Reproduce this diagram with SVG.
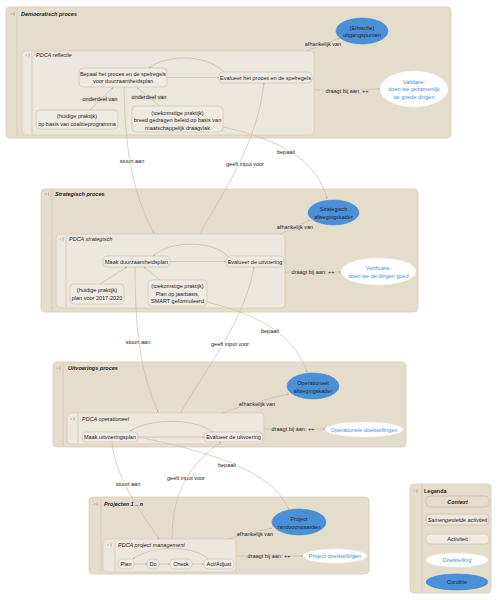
<svg xmlns="http://www.w3.org/2000/svg" width="499" height="600" viewBox="0 0 499 600">
<style>
.ctx{fill:#e5ddcc;stroke:#d5cbb7;stroke-width:0.8}
.sub{fill:#ede8dd;stroke:#d6cdbb;stroke-width:0.8}
.act{fill:#f0ebe2;stroke:#c9bfad;stroke-width:0.6}
.cond{fill:#4a90d9;stroke:#3f80c6;stroke-width:0.5}
.goal{fill:#ffffff;stroke:#eeeeee;stroke-width:0.5}
.sep{stroke:#cfc5b1;stroke-width:0.7}
.tg{stroke:#8a8170;stroke-width:0.6}
text{font-family:"Liberation Sans",Arial,sans-serif;font-size:5.5px;fill:#222}
.m{text-anchor:middle}
.tb{font-weight:bold;font-style:italic}
.ti{font-style:italic}
.b{font-weight:bold}
.blue{fill:#4a8fd6}
.c{fill:none;stroke:#c2b69e;stroke-width:0.6}
.lw{paint-order:stroke;stroke:#ffffff;stroke-width:2px}
.lc{paint-order:stroke;stroke:#e5ddcc;stroke-width:2px}
</style>
<defs>
<marker id="ar" viewBox="0 0 6 6" refX="5.5" refY="3" markerWidth="3.5" markerHeight="3.5" orient="auto">
<path d="M0,0.5 L6,3 L0,5.5 z" fill="#b8ab90"/>
</marker>
</defs>
<rect width="499" height="600" fill="#ffffff"/>

<g id="ctx-democratisch">
<rect class="ctx" x="6" y="7" width="445" height="131" rx="4"/>
<line class="sep" x1="17" y1="8" x2="17" y2="137"/>
<line class="tg" x1="10.5" y1="14" x2="12" y2="14"/><line class="tg" x1="14" y1="12.5" x2="14" y2="15.5"/>
<text class="tb" x="21" y="15.5">Democratisch proces</text>
</g>
<g id="sub-reflectie">
<rect class="sub" x="22" y="51" width="292" height="84" rx="4"/>
<line class="sep" x1="32" y1="52" x2="32" y2="134"/>
<line class="tg" x1="25.5" y1="55" x2="27" y2="55"/><line class="tg" x1="29" y1="53.5" x2="29" y2="56.5"/>
<text class="ti" x="36" y="56.5">PDCA reflectie</text>
</g>
<g id="n-bepaal"><rect class="act" x="79" y="68" width="88" height="19" rx="4"/>
<text class="m" x="123" y="75.5">Bepaal het proces en de spelregels</text><text class="m" x="123" y="83">voor duurzaamheidsplan</text></g>
<g id="n-evalueer1"><rect class="act" x="219" y="72" width="93" height="11" rx="4"/>
<text class="m" x="265.5" y="79.5">Evalueer het proces en de spelregels</text></g>
<g id="n-huidige1"><rect class="act" x="36" y="110" width="82" height="19" rx="4"/>
<text class="m" x="77" y="118">(huidige praktijk)</text><text class="m" x="77" y="126">op basis van coalitieprogramma</text></g>
<g id="n-toek1"><rect class="act" x="132" y="106" width="91" height="26" rx="4"/>
<text class="m" x="177.5" y="114.5">(toekomstige praktijk)</text><text class="m" x="177.5" y="122">breed gedragen beleid op basis van</text><text class="m" x="177.5" y="129.5">maatschappelijk draagvlak</text></g>
<g id="n-ethisch"><ellipse class="cond" cx="362" cy="31" rx="26" ry="13"/>
<text class="m" x="362" y="29.5">(Ethische)</text><text class="m" x="362" y="37">uitgangspunten</text></g>
<g id="n-validatie"><ellipse class="goal" cx="414" cy="89" rx="34" ry="18"/>
<text class="m blue" x="414" y="83.5">Validatie:</text><text class="m blue" x="414" y="91.3">doen we gezamenlijk</text><text class="m blue" x="414" y="99">de goede dingen</text></g>

<g id="ctx-strategisch">
<rect class="ctx" x="41" y="189" width="377" height="123" rx="4"/>
<line class="sep" x1="52" y1="190" x2="52" y2="311"/>
<line class="tg" x1="45" y1="194" x2="46.5" y2="194"/><line class="tg" x1="48.5" y1="192.5" x2="48.5" y2="195.5"/>
<text class="tb" x="55" y="196">Strategisch proces</text>
</g>
<g id="sub-strategisch">
<rect class="sub" x="56" y="234" width="229" height="74" rx="4"/>
<line class="sep" x1="66" y1="235" x2="66" y2="307"/>
<line class="tg" x1="59.5" y1="239" x2="61" y2="239"/><line class="tg" x1="63" y1="237.5" x2="63" y2="240.5"/>
<text class="ti" x="69" y="241">PDCA strategisch</text>
</g>
<g id="n-maak1"><rect class="act" x="103" y="256" width="67" height="11" rx="4"/>
<text class="m" x="136.5" y="263.5">Maak duurzaamheidsplan</text></g>
<g id="n-evalueer2"><rect class="act" x="226" y="256" width="58" height="11" rx="4"/>
<text class="m" x="255" y="263.5">Evalueer de uitvoering</text></g>
<g id="n-huidige2"><rect class="act" x="70" y="284" width="54" height="20" rx="4"/>
<text class="m" x="97" y="292">(huidige praktijk)</text><text class="m" x="97" y="300">plan voor 2017-2020</text></g>
<g id="n-toek2"><rect class="act" x="148" y="280" width="59" height="26" rx="4"/>
<text class="m" x="177.5" y="288">(toekomstige praktijk)</text><text class="m" x="177.5" y="295.5">Plan op jaarbasis,</text><text class="m" x="177.5" y="303">SMART geformuleerd</text></g>
<g id="n-strat-kader"><ellipse class="cond" cx="333.5" cy="212.5" rx="25.5" ry="12.5"/>
<text class="m" x="333.5" y="211.3">Strategisch</text><text class="m" x="333.5" y="219">afwegingskader</text></g>
<g id="n-verificatie"><ellipse class="goal" cx="378.5" cy="271.5" rx="37.5" ry="13.5"/>
<text class="m blue" x="378.5" y="269.7">Verificatie:</text><text class="m blue" x="378.5" y="277.7">doen we de dingen goed</text></g>

<g id="ctx-uitvoering">
<rect class="ctx" x="53" y="362" width="353" height="85" rx="4"/>
<line class="sep" x1="63" y1="363" x2="63" y2="446"/>
<line class="tg" x1="56.5" y1="368" x2="58" y2="368"/><line class="tg" x1="60" y1="366.5" x2="60" y2="369.5"/>
<text class="tb" x="68" y="370">Uitvoerings proces</text>
</g>
<g id="sub-operationeel">
<rect class="sub" x="67" y="413" width="197" height="31" rx="4"/>
<line class="sep" x1="78" y1="414" x2="78" y2="443"/>
<line class="tg" x1="70.5" y1="419" x2="72" y2="419"/><line class="tg" x1="74" y1="417.5" x2="74" y2="420.5"/>
<text class="ti" x="82" y="421">PDCA operationeel</text>
</g>
<g id="n-maak2"><rect class="act" x="82" y="432" width="56" height="10" rx="4"/>
<text class="m" x="110" y="439">Maak uitvoeringsplan</text></g>
<g id="n-evalueer3"><rect class="act" x="204" y="432" width="59" height="10" rx="4"/>
<text class="m" x="233.5" y="439">Evalueer de uitvoering</text></g>
<g id="n-oper-kader"><ellipse class="cond" cx="313" cy="386" rx="26" ry="13"/>
<text class="m" x="313" y="385.3">Operationeel</text><text class="m" x="313" y="392.7">afwegingskader</text></g>
<g id="n-oper-doel"><ellipse class="goal" cx="364" cy="429.5" rx="39" ry="7.5"/>
<text class="m blue" x="364" y="431.5">Operationele doelstellingen</text></g>

<g id="ctx-projecten">
<rect class="ctx" x="89" y="497" width="280" height="77" rx="4"/>
<line class="sep" x1="101" y1="498" x2="101" y2="573"/>
<line class="tg" x1="93.5" y1="504" x2="95" y2="504"/><line class="tg" x1="97" y1="502.5" x2="97" y2="505.5"/>
<text class="tb" x="104" y="506">Projecten 1 .. n</text>
</g>
<g id="sub-project">
<rect class="sub" x="103" y="539" width="133" height="33" rx="4"/>
<line class="sep" x1="115" y1="540" x2="115" y2="571"/>
<line class="tg" x1="107.5" y1="545" x2="109" y2="545"/><line class="tg" x1="111" y1="543.5" x2="111" y2="546.5"/>
<text class="ti" x="118" y="547">PDCA project management</text>
</g>
<g id="n-plan"><rect class="act" x="118" y="559" width="16" height="10" rx="4"/><text class="m" x="126" y="566">Plan</text></g>
<g id="n-do"><rect class="act" x="147" y="559" width="12" height="10" rx="4"/><text class="m" x="153" y="566">Do</text></g>
<g id="n-check"><rect class="act" x="170" y="559" width="22" height="10" rx="4"/><text class="m" x="181" y="566">Check</text></g>
<g id="n-act"><rect class="act" x="204" y="559" width="30" height="10" rx="4"/><text class="m" x="219" y="566">Act/Adjust</text></g>
<g id="n-proj-rand"><ellipse class="cond" cx="299" cy="522" rx="27" ry="13"/>
<text class="m" x="299" y="521">Project</text><text class="m" x="299" y="528.7">randvoorwaarden</text></g>
<g id="n-proj-doel"><ellipse class="goal" cx="335" cy="556" rx="32" ry="7"/>
<text class="m blue" x="335" y="558">Project doelstellingen</text></g>

<g id="legend">
<rect class="ctx" x="410" y="484" width="81" height="109" rx="4"/>
<line class="sep" x1="422" y1="485" x2="422" y2="592"/>
<line class="tg" x1="413.5" y1="491" x2="415" y2="491"/><line class="tg" x1="417" y1="489.5" x2="417" y2="492.5"/>
<text class="b" x="424" y="493">Leganda</text>
<rect class="ctx" x="426" y="496" width="63" height="11" rx="4" style="stroke:#cabfab"/>
<text class="m tb" x="457.5" y="503.5">Context</text>
<rect class="sub" x="426" y="514" width="63" height="11" rx="4" style="stroke:#cabfab"/>
<text class="m ti" x="457.5" y="521.5">Samengestelde activiteit</text>
<rect class="act" x="426" y="534" width="63" height="10" rx="4"/>
<text class="m" x="457.5" y="541">Activiteit</text>
<ellipse class="goal" cx="457" cy="560" rx="31" ry="7"/>
<text class="m blue" x="457" y="562">Doelstelling</text>
<ellipse class="cond" cx="457" cy="582" rx="31" ry="8"/>
<text class="m" x="457" y="584">Conditie</text>
</g>

<g id="connectors">
<path class="c" d="M167,77.5 L219,77.5" marker-end="url(#ar)"/>
<path class="c" d="M224,72 C205,53 165,55 149,68" marker-end="url(#ar)"/>
<path class="c" d="M90,110 L113,87.5" marker-end="url(#ar)"/>
<path class="c" d="M160,106 L137,87.5" marker-end="url(#ar)"/>
<path class="c" d="M306,51 L340,38" marker-end="url(#ar)"/>
<path class="c" d="M314,90 L380,89" marker-end="url(#ar)"/>
<path class="c" d="M124,87 C125,160 136,200 154,233" marker-end="url(#ar)"/>
<path class="c" d="M200,233 C225,190 258,140 264,83" marker-end="url(#ar)"/>
<path class="c" d="M223,127 C290,142 318,165 327,199" marker-end="url(#ar)"/>

<path class="c" d="M170,261.5 L226,261.5" marker-end="url(#ar)"/>
<path class="c" d="M228,257 C215,240 170,240 153,256" marker-end="url(#ar)"/>
<path class="c" d="M100,284 L127,267" marker-end="url(#ar)"/>
<path class="c" d="M160,280 L144,267" marker-end="url(#ar)"/>
<path class="c" d="M280,234 L310,220" marker-end="url(#ar)"/>
<path class="c" d="M285,272 L341,272" marker-end="url(#ar)"/>
<path class="c" d="M135,267 C135,350 145,380 158,412" marker-end="url(#ar)"/>
<path class="c" d="M181,412 C205,370 245,320 254,267" marker-end="url(#ar)"/>
<path class="c" d="M207,302 C262,315 296,338 307,372" marker-end="url(#ar)"/>

<path class="c" d="M138,437 L204,437" marker-end="url(#ar)"/>
<path class="c" d="M213,432 C195,418 150,418 130,431" marker-end="url(#ar)"/>
<path class="c" d="M222,413 C245,405 270,398 289,394" marker-end="url(#ar)"/>
<path class="c" d="M264,429 L325,429" marker-end="url(#ar)"/>
<path class="c" d="M112,442 C116,480 140,510 159,539" marker-end="url(#ar)"/>
<path class="c" d="M172,539 C172,490 192,462 221,442" marker-end="url(#ar)"/>
<path class="c" d="M138,437 C210,452 272,470 289,510" marker-end="url(#ar)"/>

<path class="c" d="M134,564 L147,564" marker-end="url(#ar)"/>
<path class="c" d="M159,564 L170,564" marker-end="url(#ar)"/>
<path class="c" d="M192,564 L204,564" marker-end="url(#ar)"/>
<path class="c" d="M208,559 C195,545 150,545 133,559" marker-end="url(#ar)"/>
<path class="c" d="M228,539 C245,534 260,531 272,528" marker-end="url(#ar)"/>
<path class="c" d="M236,556 L303,556" marker-end="url(#ar)"/>

<text class="m lc" x="100" y="101">onderdeel van</text>
<text class="m lc" x="149" y="99">onderdeel van</text>
<text class="m lc" x="323" y="46">afhankelijk van</text>
<text class="m lc" x="347" y="93">draagt bij aan: ++</text>
<text class="m lw" x="132" y="163">stuurt aan</text>
<text class="m lw" x="245" y="166">geeft input voor</text>
<text class="m lw" x="286" y="154">bepaalt</text>
<text class="m lc" x="295" y="229">afhankelijk van</text>
<text class="m lc" x="313" y="274">draagt bij aan: ++</text>
<text class="m lw" x="138" y="344">stuurt aan</text>
<text class="m lw" x="230" y="346">geeft input voor</text>
<text class="m lw" x="270" y="333">bepaalt</text>
<text class="m lc" x="257" y="406">afhankelijk van</text>
<text class="m lc" x="293" y="431">draagt bij aan: ++</text>
<text class="m lw" x="128" y="486">stuurt aan</text>
<text class="m lw" x="186" y="480">geeft input voor</text>
<text class="m lw" x="227" y="467">bepaalt</text>
<text class="m lc" x="255" y="536">afhankelijk van</text>
<text class="m lc" x="269" y="558">draagt bij aan: ++</text>
</g>
</svg>
